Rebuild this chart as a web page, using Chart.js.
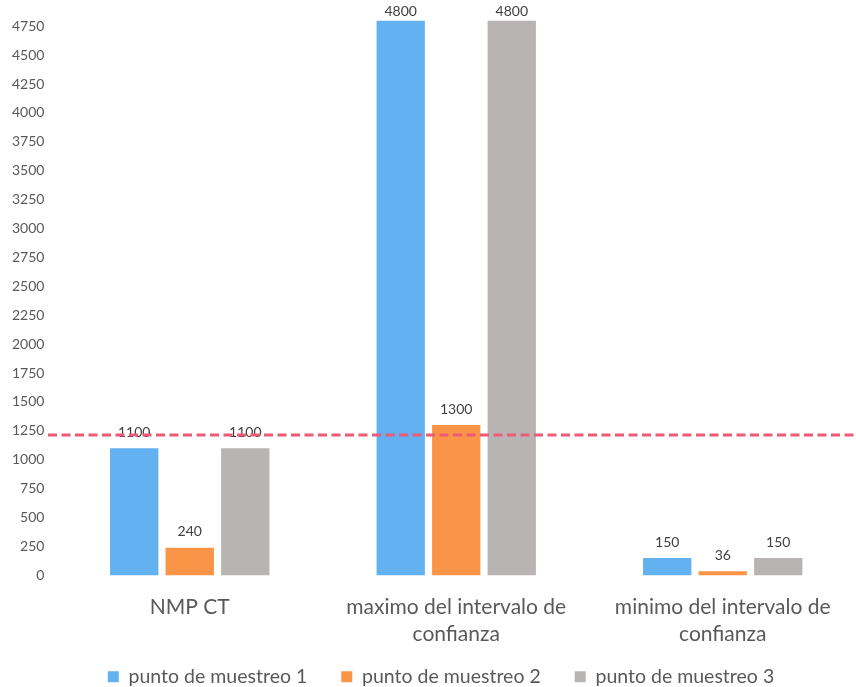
<!DOCTYPE html>
<html>
<head>
<meta charset="utf-8">
<script src="https://cdn.jsdelivr.net/npm/chart.js@4/dist/chart.umd.min.js"></script>
<style>
  html, body { margin: 0; padding: 0; background: #ffffff; }
  #wrap { width: 856px; height: 687px; }
</style>
</head>
<body>
<div id="wrap"><canvas id="c" width="856" height="687"></canvas></div>
<script>
// Categories (x axis, wrapped labels) and the three sampling points
const categories = [
  ["NMP CT"],
  ["maximo del intervalo de", "confianza"],
  ["minimo del intervalo de", "confianza"]
];
const seriesNames = ["punto de muestreo 1", "punto de muestreo 2", "punto de muestreo 3"];
const punto1 = [1100, 4800, 150];
const punto2 = [240, 1300, 36];
const punto3 = [1100, 4800, 150];
const referenceLevel = 1215;   // dashed reference line
const yTicks = [0, 250, 500, 750, 1000, 1250, 1500, 1750, 2000, 2250, 2500,
                2750, 3000, 3250, 3500, 3750, 4000, 4250, 4500, 4750];
const yMax = 4800;

const colors = ["#63B1F1", "#FA9446", "#B9B4B4"];

// Value labels above each bar
const valueLabels = {
  id: "valueLabels",
  afterDatasetsDraw(chart) {
    const ctx = chart.ctx;
    ctx.save();
    ctx.font = "14px Lato";
    ctx.fillStyle = "#404040";
    ctx.textAlign = "center";
    ctx.textBaseline = "middle";
    chart.data.datasets.forEach((ds, i) => {
      const meta = chart.getDatasetMeta(i);
      meta.data.forEach((bar, j) => {
        ctx.fillText(String(ds.data[j]), bar.x, Math.max(bar.y - 16, 11));
      });
    });
    ctx.restore();
  }
};

// Horizontal dashed reference line across the plot
const refLine = {
  id: "refLine",
  afterDatasetsDraw(chart) {
    const ctx = chart.ctx;
    const y = chart.scales.y.getPixelForValue(referenceLevel);
    ctx.save();
    ctx.strokeStyle = "#EC5A76";
    ctx.lineWidth = 3;
    ctx.setLineDash([9, 4.5]);
    ctx.beginPath();
    ctx.moveTo(48, y);
    ctx.lineTo(chart.width, y);
    ctx.stroke();
    ctx.restore();
  }
};

// Centre the legend row under the plot area rather than the whole canvas
const legendShift = {
  id: "legendShift",
  afterLayout(chart) {
    if (chart.legend) chart.legend.left += 26;
  }
};

const datasets = [punto1, punto2, punto3].map((vals, i) => ({
  label: seriesNames[i],
  data: vals,
  backgroundColor: colors[i],
  borderWidth: 0,
  categoryPercentage: 0.625,
  barPercentage: 0.87
}));

new Chart(document.getElementById("c"), {
  type: "bar",
  data: { labels: categories, datasets },
  plugins: [valueLabels, refLine, legendShift],
  options: {
    responsive: false,
    animation: false,
    layout: { padding: { top: 19, left: 0, right: 0, bottom: 0 } },
    plugins: {
      tooltip: { enabled: false },
      legend: {
        position: "bottom",
        maxHeight: 39,
        labels: {
          font: { family: "Lato", size: 19.5 },
          color: "#595959",
          boxWidth: 11,
          boxHeight: 11,
          padding: 19,
          // a little extra room between legend entries
          generateLabels(chart) {
            const items = Chart.defaults.plugins.legend.labels.generateLabels(chart);
            items.forEach((it, i) => {
              if (i < items.length - 1) it.text += "\u00a0\u00a0\u00a0";
            });
            return items;
          }
        }
      }
    },
    scales: {
      x: {
        grid: { display: false, drawTicks: false },
        border: { display: false },
        // keep the category labels close to the legend
        afterFit(scale) { scale.height -= 18; },
        ticks: {
          font: { family: "Lato", size: 21, lineHeight: 1.3 },
          color: "#595959",
          padding: 18,
          maxRotation: 0
        }
      },
      y: {
        min: 0,
        max: yMax,
        grid: { display: false, drawTicks: false },
        border: { display: false },
        afterBuildTicks(scale) {
          scale.ticks = yTicks.map(v => ({ value: v }));
        },
        ticks: {
          autoSkip: false,
          font: { family: "Lato", size: 14 },
          color: "#595959",
          padding: 12,
          callback: v => String(v)
        }
      }
    }
  }
});
</script>
</body>
</html>
